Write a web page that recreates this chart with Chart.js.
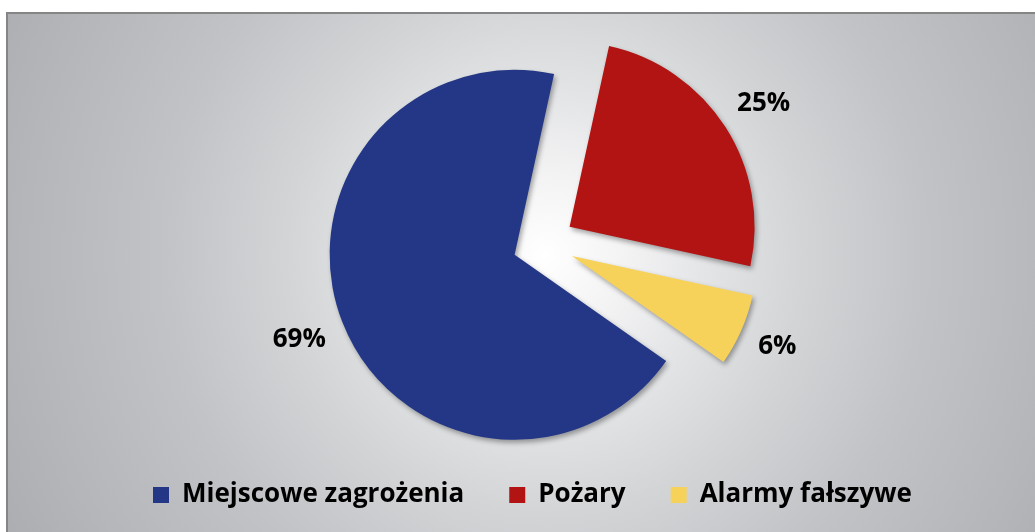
<!DOCTYPE html>
<html>
<head>
<meta charset="utf-8">
<script src="https://cdn.jsdelivr.net/npm/chart.js@4.4.1/dist/chart.umd.min.js"></script>
<style>
  html, body { margin: 0; padding: 0; width: 1035px; height: 532px; overflow: hidden; background: #ffffff; }
  #frame {
    position: absolute; left: 6px; top: 12px; width: 1100px; height: 600px;
    box-sizing: border-box; border: 2px solid #858585;
    background: radial-gradient(circle 640px at 537px 241px,
      #ffffff 0px, #f3f3f4 80px, #e2e3e5 170px, #d3d4d6 260px, #c2c3c6 380px, #b5b6ba 520px, #a9aaae 640px);
  }
  #wrap { position: absolute; left: 0; top: 0; width: 1035px; height: 532px; }
</style>
</head>
<body>
<div id="frame"></div>
<div id="wrap"><canvas id="c" width="1035" height="532"></canvas></div>
<script>
// ---- data ----
const categories = ['Miejscowe zagrożenia', 'Pożary', 'Alarmy fałszywe'];
const shares = [68.7, 25.0, 6.3];
const sliceColors = ['#243786', '#b11412', '#f7d25a'];

// ---- styling constants ----
const EXPLODE = 31;      // distance each slice is pulled out
const LABEL_GAP = 18;    // gap between slice edge and nearest side of the % label box
const LABEL_HEIGHT = 19; // visual height of the % label text
const FONT_FAMILY = '"Open Sans", "DejaVu Sans", sans-serif';

const explodePlugin = {
  id: 'explode',
  beforeDatasetDraw(chart, args) {
    const c = chart.ctx;
    args.meta.data.forEach(arc => {
      const mid = (arc.startAngle + arc.endAngle) / 2;
      c.save();
      c.shadowColor = 'rgba(0,0,0,0.35)';
      c.shadowBlur = 5;
      c.shadowOffsetX = 2;
      c.shadowOffsetY = 3;
      c.translate(Math.cos(mid) * EXPLODE, Math.sin(mid) * EXPLODE);
      arc.draw(c);
      c.restore();
    });
    return false;
  }
};

const percentLabels = {
  id: 'percentLabels',
  afterDatasetsDraw(chart) {
    const c = chart.ctx;
    const meta = chart.getDatasetMeta(0);
    const values = chart.data.datasets[0].data;
    const total = values.reduce((a, b) => a + b, 0);
    c.save();
    c.font = 'bold 26px ' + FONT_FAMILY;
    c.fillStyle = '#000000';
    c.textAlign = 'center';
    c.textBaseline = 'middle';
    meta.data.forEach((arc, i) => {
      const txt = Math.round(values[i] / total * 100) + '%';
      const w = c.measureText(txt).width;
      const mid = (arc.startAngle + arc.endAngle) / 2;
      const cx = Math.cos(mid), sy = Math.sin(mid);
      const extent = Math.abs(cx) * w / 2 + Math.abs(sy) * LABEL_HEIGHT / 2;
      const r = arc.outerRadius + EXPLODE + LABEL_GAP + extent;
      c.fillText(txt, arc.x + cx * r, arc.y + sy * r + 1);
    });
    c.restore();
  }
};

new Chart(document.getElementById('c'), {
  type: 'pie',
  data: {
    labels: categories,
    datasets: [{
      data: shares,
      backgroundColor: sliceColors,
      borderWidth: 0,
      radius: 185,
      rotation: 125
    }]
  },
  options: {
    responsive: false,
    animation: false,
    events: [],
    layout: { padding: { left: 108, right: 56, top: 50, bottom: 14 } },
    plugins: {
      tooltip: { enabled: false },
      legend: {
        position: 'bottom',
        align: 'start',
        labels: {
          boxWidth: 16,
          boxHeight: 16,
          padding: 45,
          color: '#000000',
          font: { family: FONT_FAMILY, size: 26, weight: 'bold' }
        }
      }
    }
  },
  plugins: [explodePlugin, percentLabels]
});
</script>
</body>
</html>
